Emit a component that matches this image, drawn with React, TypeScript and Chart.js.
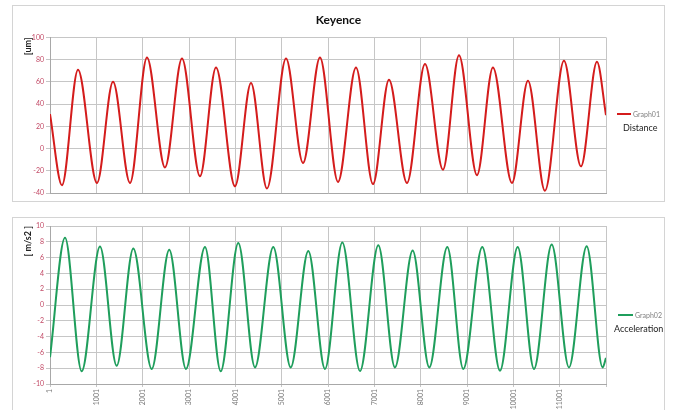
import React, { useEffect, useRef } from "react";
import { Chart, registerables } from "chart.js";

Chart.register(...registerables);

// ---------------- data ----------------
const chartTitle = "Keyence";
const distanceLabel = "Graph01";
const distanceName = "Distance";
const distanceAxisTitle = "[um]";
const accelLabel = "Graph02";
const accelName = "Acceleration";
const accelAxisTitle = "[ m/s2 ]";

// sample index of the turning points of the distance trace
const distanceIdx = [
  1, 260, 605, 1015, 1361, 1728, 2094, 2483, 2850, 3238, 3584, 3994, 4339, 4684,
  5095, 5462, 5828, 6217, 6605, 6972, 7317, 7706, 8094, 8482, 8828, 9216, 9561,
  9971, 10317, 10683, 11094, 11461, 11806, 12001,
];
// distance [um] at those samples
const distanceVal = [
  31, -33, 71, -31, 60, -31, 82, -17, 81, -25, 73, -34, 59, -36, 81, -13, 82,
  -30, 73, -32, 62, -31, 76, -19, 84, -24, 73, -31, 61, -38, 79, -16, 78, 30,
];

// sample index of the turning points of the acceleration trace
const accelIdx = [
  1, 325, 685, 1080, 1440, 1799, 2196, 2575, 2936, 3346, 3685, 4065, 4425, 4820,
  5196, 5576, 5936, 6310, 6692, 7087, 7446, 7828, 8187, 8576, 8921, 9331, 9713,
  10095, 10447, 10829, 11202, 11584, 11929, 12001,
];
// acceleration [m/s2] at those samples
const accelVal = [
  -6.6, 8.5, -8.4, 7.4, -7.7, 7.15, -8.1, 7.0, -8.1, 7.35, -8.4, 7.85, -7.9, 7.35,
  -7.9, 6.85, -8.1, 7.9, -8.35, 7.55, -7.9, 6.9, -7.9, 7.35, -8.1, 7.35, -8.3,
  7.35, -8.1, 7.65, -7.9, 7.45, -7.9, -6.7,
];

const xTickValues = [1, 1001, 2001, 3001, 4001, 5001, 6001, 7001, 8001, 9001, 10001, 11001, 12001];
const xTickLabels = ["1", "1001", "2001", "3001", "4001", "5001", "6001", "7001", "8001", "9001", "10001", "11001"];

const distanceRange = { min: -40, max: 100, step: 20 };
const accelRange = { min: -10, max: 10, step: 2 };

// ---------------- styles ----------------
const RED = "#d41c1c";
const GREEN = "#1f9e5c";
const GRID = "#c6c6c6";
const TICK_RED = "#c24a66";
const FONT = "Lato, 'Open Sans', sans-serif";

function makeConfig(opts: {
  idx: number[];
  val: number[];
  label: string;
  color: string;
  range: { min: number; max: number; step: number };
  axisTitle: string;
  title?: string;
  showXLabels: boolean;
  xHeight: number;
  padTop: number;
  padBottom: number;
}): any {
  const data = opts.idx.map((x, i) => ({ x, y: opts.val[i] }));
  return {
    type: "line",
    data: {
      datasets: [
        {
          label: opts.label,
          data,
          borderColor: opts.color,
          backgroundColor: opts.color,
          borderWidth: 2,
          pointRadius: 0,
          cubicInterpolationMode: "monotone",
          fill: false,
        },
      ],
    },
    options: {
      animation: false,
      responsive: false,
      devicePixelRatio: 1,
      layout: { padding: { left: 0, right: 0, top: opts.padTop, bottom: opts.padBottom } },
      plugins: {
        legend: { display: false },
        tooltip: { enabled: false },
        title: opts.title
          ? {
              display: true,
              text: opts.title,
              color: "#111",
              font: { family: FONT, size: 12, weight: "bold", lineHeight: 1.2 },
              padding: { top: 7, bottom: 10 },
            }
          : { display: false },
      },
      scales: {
        x: {
          type: "linear",
          min: 1,
          max: 12001,
          afterBuildTicks: (scale: any) => {
            scale.ticks = xTickValues.map((v) => ({ value: v }));
          },
          afterFit: (scale: any) => {
            scale.height = opts.xHeight;
          },
          grid: {
            color: GRID,
            lineWidth: 1,
            drawTicks: opts.showXLabels,
            tickLength: 3,
          },
          border: { color: "#a8a8a8" },
          ticks: {
            display: opts.showXLabels,
            autoSkip: false,
            minRotation: 90,
            maxRotation: 90,
            padding: 2,
            color: "#777",
            font: { family: FONT, size: 7 },
            callback: (_v: any, i: number) => (i < xTickLabels.length ? xTickLabels[i] : ""),
          },
        },
        y: {
          min: opts.range.min,
          max: opts.range.max,
          afterFit: (scale: any) => {
            scale.width = 37;
          },
          grid: { color: GRID, lineWidth: 1, tickLength: 4 },
          border: { color: "#a8a8a8" },
          ticks: {
            stepSize: opts.range.step,
            padding: 2,
            color: TICK_RED,
            font: { family: FONT, size: 7 },
          },
          title: {
            display: true,
            text: opts.axisTitle,
            align: "end",
            color: "#222",
            font: { family: FONT, size: 9, weight: "bold", lineHeight: 1.2 },
            padding: { top: 10, bottom: 0 },
          },
        },
        // empty right-hand strip that keeps room for the legend
        legendSpace: {
          position: "right",
          display: true,
          afterFit: (scale: any) => {
            scale.width = 58;
          },
          grid: { display: false, drawTicks: false },
          border: { display: false },
          ticks: { display: false },
        },
      },
    },
  };
}

function ChartCanvas({ config, width, height }: { config: any; width: number; height: number }) {
  const ref = useRef<HTMLCanvasElement | null>(null);
  useEffect(() => {
    if (!ref.current) return;
    const chart = new Chart(ref.current, config);
    return () => chart.destroy();
  }, [config]);
  return (
    <canvas
      ref={ref}
      width={width}
      height={height}
      style={{ position: "absolute", left: 0, top: 0, width, height }}
    />
  );
}

const topConfig = makeConfig({
  idx: distanceIdx,
  val: distanceVal,
  label: distanceLabel,
  color: RED,
  range: distanceRange,
  axisTitle: distanceAxisTitle,
  title: chartTitle,
  showXLabels: false,
  xHeight: 0,
  padTop: 0,
  padBottom: 8,
});

const bottomConfig = makeConfig({
  idx: accelIdx,
  val: accelVal,
  label: accelLabel,
  color: GREEN,
  range: accelRange,
  axisTitle: accelAxisTitle,
  showXLabels: true,
  xHeight: 26,
  padTop: 8,
  padBottom: 0,
});

function LegendBlock({
  top,
  lineLeft,
  lineWidth,
  color,
  label,
  name,
  nameLeft,
}: {
  top: number;
  lineLeft: number;
  lineWidth: number;
  color: string;
  label: string;
  name: string;
  nameLeft: number;
}) {
  return (
    <>
      <div
        style={{
          position: "absolute",
          left: lineLeft,
          top: top - 1,
          width: lineWidth,
          height: 2,
          background: color,
        }}
      />
      <div
        style={{
          position: "absolute",
          left: lineLeft + lineWidth + 2,
          top: top - 5,
          height: 10,
          lineHeight: "10px",
          fontFamily: FONT,
          fontSize: 7,
          color: "#808080",
          whiteSpace: "nowrap",
        }}
      >
        {label}
      </div>
      <div
        style={{
          position: "absolute",
          left: nameLeft,
          top: top + 7,
          height: 14,
          lineHeight: "14px",
          fontFamily: FONT,
          fontSize: 9,
          color: "#222",
          whiteSpace: "nowrap",
        }}
      >
        {name}
      </div>
    </>
  );
}

export default function App() {
  useEffect(() => {
    document.body.style.overflow = "hidden";
  }, []);
  return (
    <div style={{ position: "absolute", left: 0, top: 0, width: 673, height: 410, overflow: "hidden", background: "#fff" }}>
      <div
        style={{
          position: "absolute",
          left: 12,
          top: 5,
          width: 653,
          height: 197,
          border: "1px solid #d4d4d4",
          boxSizing: "border-box",
        }}
      >
        <ChartCanvas config={topConfig} width={651} height={195} />
      </div>
      <LegendBlock
        top={114}
        lineLeft={617}
        lineWidth={14}
        color={RED}
        label={distanceLabel}
        name={distanceName}
        nameLeft={623}
      />
      <div
        style={{
          position: "absolute",
          left: 12,
          top: 217,
          width: 653,
          height: 200,
          border: "1px solid #d4d4d4",
          boxSizing: "border-box",
        }}
      >
        <ChartCanvas config={bottomConfig} width={651} height={192} />
      </div>
      <LegendBlock
        top={315}
        lineLeft={618}
        lineWidth={15}
        color={GREEN}
        label={accelLabel}
        name={accelName}
        nameLeft={614}
      />
    </div>
  );
}
